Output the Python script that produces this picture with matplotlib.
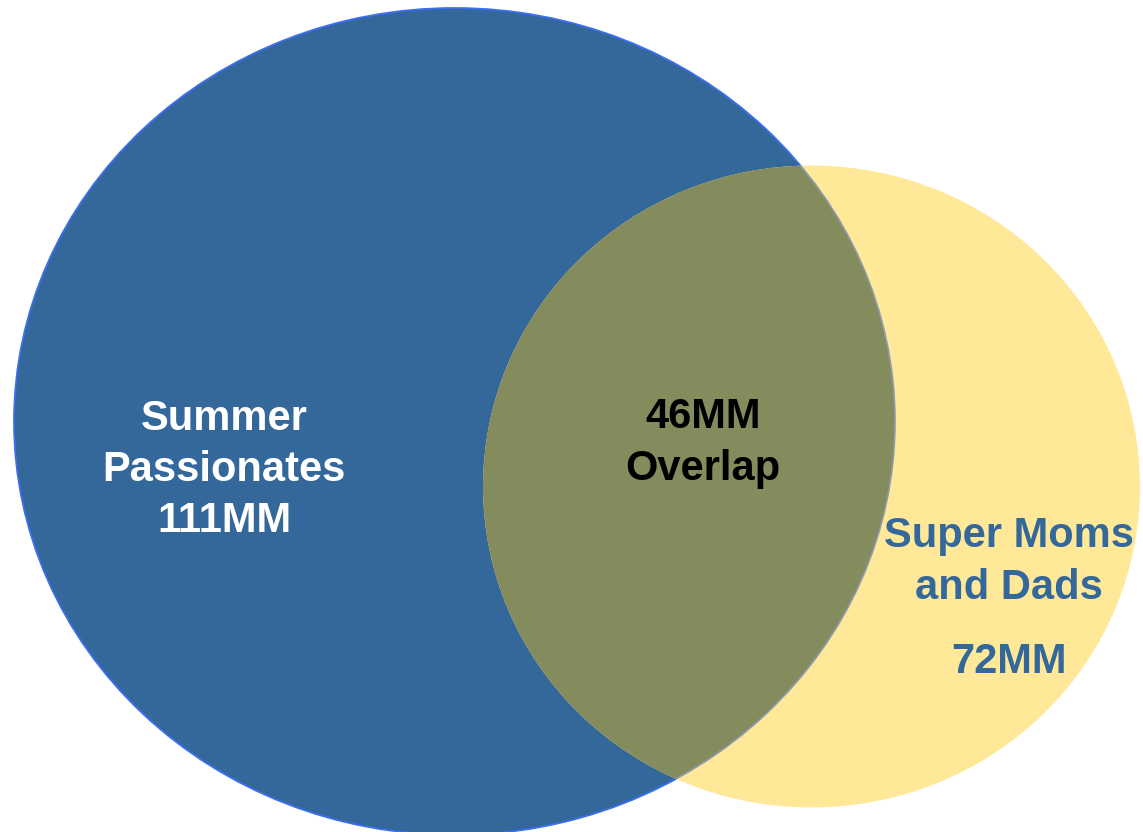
import matplotlib
matplotlib.use("Agg")
import matplotlib.pyplot as plt
from matplotlib.patches import Ellipse

# Audience segments (millions)
segment_names = ["Summer\nPassionates", "Super Moms\nand Dads"]
segment_sizes = [111, 72]
overlap_size = 46

# Colours
BLUE = "#34679A"
BLUE_EDGE = "#3D6FF2"
YELLOW = "#FFE999"
OLIVE = "#848B5C"

W, H = 1143, 832
fig = plt.figure(figsize=(W / 100, H / 100), dpi=100)
ax = fig.add_axes([0, 0, 1, 1])
ax.set_xlim(0, W)
ax.set_ylim(H, 0)
ax.set_aspect("equal")
ax.axis("off")

# Circle geometry in pixel coordinates: (cx, cy, width, height)
left_geom = (454.5, 421.5, 881, 827)
right_geom = (811.5, 486.5, 657, 642)

left = Ellipse(left_geom[:2], left_geom[2], left_geom[3],
               facecolor=BLUE, edgecolor=BLUE_EDGE, lw=1.3, zorder=1)
ax.add_patch(left)

right = Ellipse(right_geom[:2], right_geom[2], right_geom[3],
                facecolor=YELLOW, edgecolor="none", zorder=2)
ax.add_patch(right)

# Intersection region
inter = Ellipse(right_geom[:2], right_geom[2], right_geom[3],
                facecolor=OLIVE, edgecolor="none", zorder=3)
ax.add_patch(inter)
clip_left = Ellipse(left_geom[:2], left_geom[2], left_geom[3],
                    transform=ax.transData)
inter.set_clip_path(clip_left)

# Faint boundary of the left circle inside the right one
edge = Ellipse(left_geom[:2], left_geom[2], left_geom[3],
               facecolor="none", edgecolor="#8E9AAE", lw=1.2, zorder=4)
ax.add_patch(edge)
clip_right = Ellipse(right_geom[:2], right_geom[2], right_geom[3],
                     transform=ax.transData)
edge.set_clip_path(clip_right)

font = dict(family=["Liberation Sans", "DejaVu Sans"], fontweight="bold",
            fontsize=30, ha="center", va="center", linespacing=1.36, zorder=5)

ax.text(224, 470, f"{segment_names[0]}\n{segment_sizes[0]}MM",
        color="white", **font)
ax.text(703, 443, f"{overlap_size}MM\nOverlap", color="black", **font)
ax.text(1009, 562, segment_names[1], color=BLUE, **font)
ax.text(1009, 662, f"{segment_sizes[1]}MM", color=BLUE, **font)

fig.savefig("out.png", dpi=100)
